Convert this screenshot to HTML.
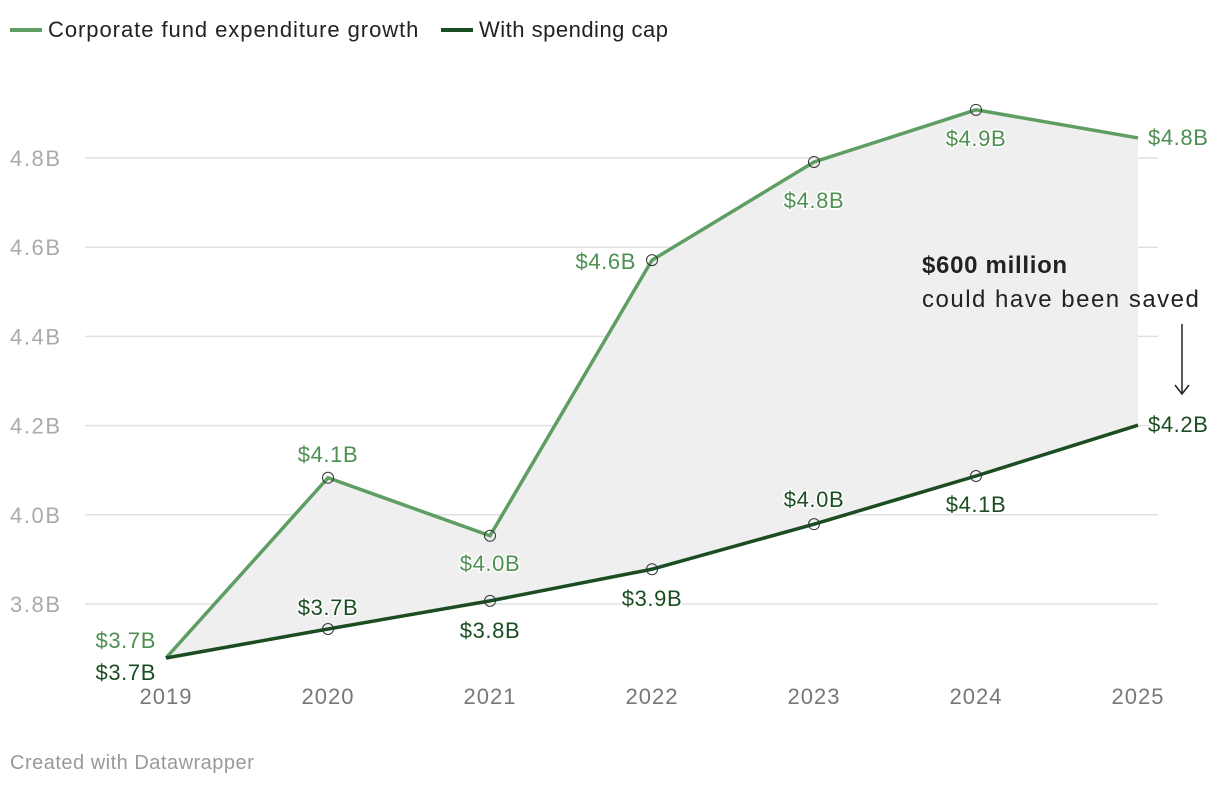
<!DOCTYPE html>
<html><head><meta charset="utf-8"><style>
body{margin:0;background:#fff;font-family:"Liberation Sans",sans-serif;}
svg{display:block}
</style></head><body>
<svg id="chart" width="1220" height="786">
<g>
<g><rect x="10" y="28" width="32" height="4" fill="#5f9e63"/><text x="48" y="37" font-size="22" letter-spacing="0.95" fill="#222">Corporate fund expenditure growth</text></g>
<g><rect x="441" y="28" width="32" height="4" fill="#1b4d23"/><text x="479" y="37" font-size="22" letter-spacing="0.5" fill="#222">With spending cap</text></g>
</g>
<g id="grid"></g>
<path id="area" fill="#efefef"/>
<path id="l1" fill="none" stroke="#5f9e63" stroke-width="3.5"/>
<path id="l2" fill="none" stroke="#1b4d23" stroke-width="3.5"/>
<g id="marks"></g>
<g>
<text x="922" y="273" font-size="24" font-weight="bold" letter-spacing="0.7" fill="#222">$600 million</text>
<text x="922" y="307" font-size="24" letter-spacing="1.5" fill="#222">could have been saved</text>
<line x1="1182" y1="324" x2="1182" y2="393" stroke="#222" stroke-width="1.5"/>
<path d="M1175,385 L1182,394 L1189,385" fill="none" stroke="#222" stroke-width="1.5"/>
</g>
<text x="10" y="769" font-size="20" letter-spacing="0.5" fill="#999">Created with Datawrapper</text>
</svg>
<script>
const years=["2019","2020","2021","2022","2023","2024","2025"];
const growth=[3.679,4.083,3.953,4.571,4.791,4.908,4.845];
const cap=[3.679,3.744,3.807,3.878,3.979,4.087,4.201];
const growthLabels=["$3.7B","$4.1B","$4.0B","$4.6B","$4.8B","$4.9B","$4.8B"];
const capLabels=["$3.7B","$3.7B","$3.8B","$3.9B","$4.0B","$4.1B","$4.2B"];
const yTicks=[3.8,4.0,4.2,4.4,4.6,4.8];
const yTickLabels=["3.8B","4.0B","4.2B","4.4B","4.6B","4.8B"];
const X=i=>166+i*162;
const Y=v=>158+(4.8-v)/0.2*89.2;
const NS="http://www.w3.org/2000/svg";
function mk(t,a,p){const e=document.createElementNS(NS,t);for(const k in a)e.setAttribute(k,a[k]);p.appendChild(e);return e;}
const grid=document.getElementById('grid');
yTicks.forEach((v,i)=>{
const l=mk('line',{x1:85,x2:1158,y1:Y(v),y2:Y(v),stroke:'#e0e0e0','stroke-width':1.5},grid);


const t=mk('text',{x:10,y:Y(v)+8,'font-size':22,'letter-spacing':1.6,fill:'#aaa'},grid);t.textContent=yTickLabels[i];


});
years.forEach((y,i)=>{
const t=mk('text',{x:X(i),y:704,'font-size':22,'letter-spacing':1,fill:'#777','text-anchor':'middle'},grid);t.textContent=y;


});
const p1=growth.map((v,i)=>X(i)+','+Y(v));
const p2=cap.map((v,i)=>X(i)+','+Y(v));
document.getElementById('l1').setAttribute('d','M'+p1.join('L'));
document.getElementById('l2').setAttribute('d','M'+p2.join('L'));
document.getElementById('area').setAttribute('d','M'+p1.join('L')+'L'+p2.slice().reverse().join('L')+'Z');
const marks=document.getElementById('marks');
const gPos=[[-10,-10,'end'],[0,-16,'middle'],[0,35,'middle'],[-16,9,'end'],[0,46,'middle'],[0,36,'middle'],[10,7,'start']];
const cPos=[[-10,22,'end'],[0,-14,'middle'],[0,37,'middle'],[0,37,'middle'],[0,-17,'middle'],[0,36,'middle'],[10,7,'start']];
function draw(vals,labs,pos,col,name){
vals.forEach((v,i)=>{
if(i>0&&i<6){const c=mk('circle',{cx:X(i),cy:Y(v),r:5.5,fill:'none',stroke:'#333','stroke-width':1},marks);

}
const t=mk('text',{x:X(i)+pos[i][0],y:Y(v)+pos[i][1],'font-size':22,'letter-spacing':0.6,fill:col,'text-anchor':pos[i][2],stroke:'#fff','stroke-width':3,'paint-order':'stroke'},marks);
t.textContent=labs[i];


});}
draw(growth,growthLabels,gPos,'#4e8f52','growth');
draw(cap,capLabels,cPos,'#1b4d23','cap');
</script>
</body></html>
